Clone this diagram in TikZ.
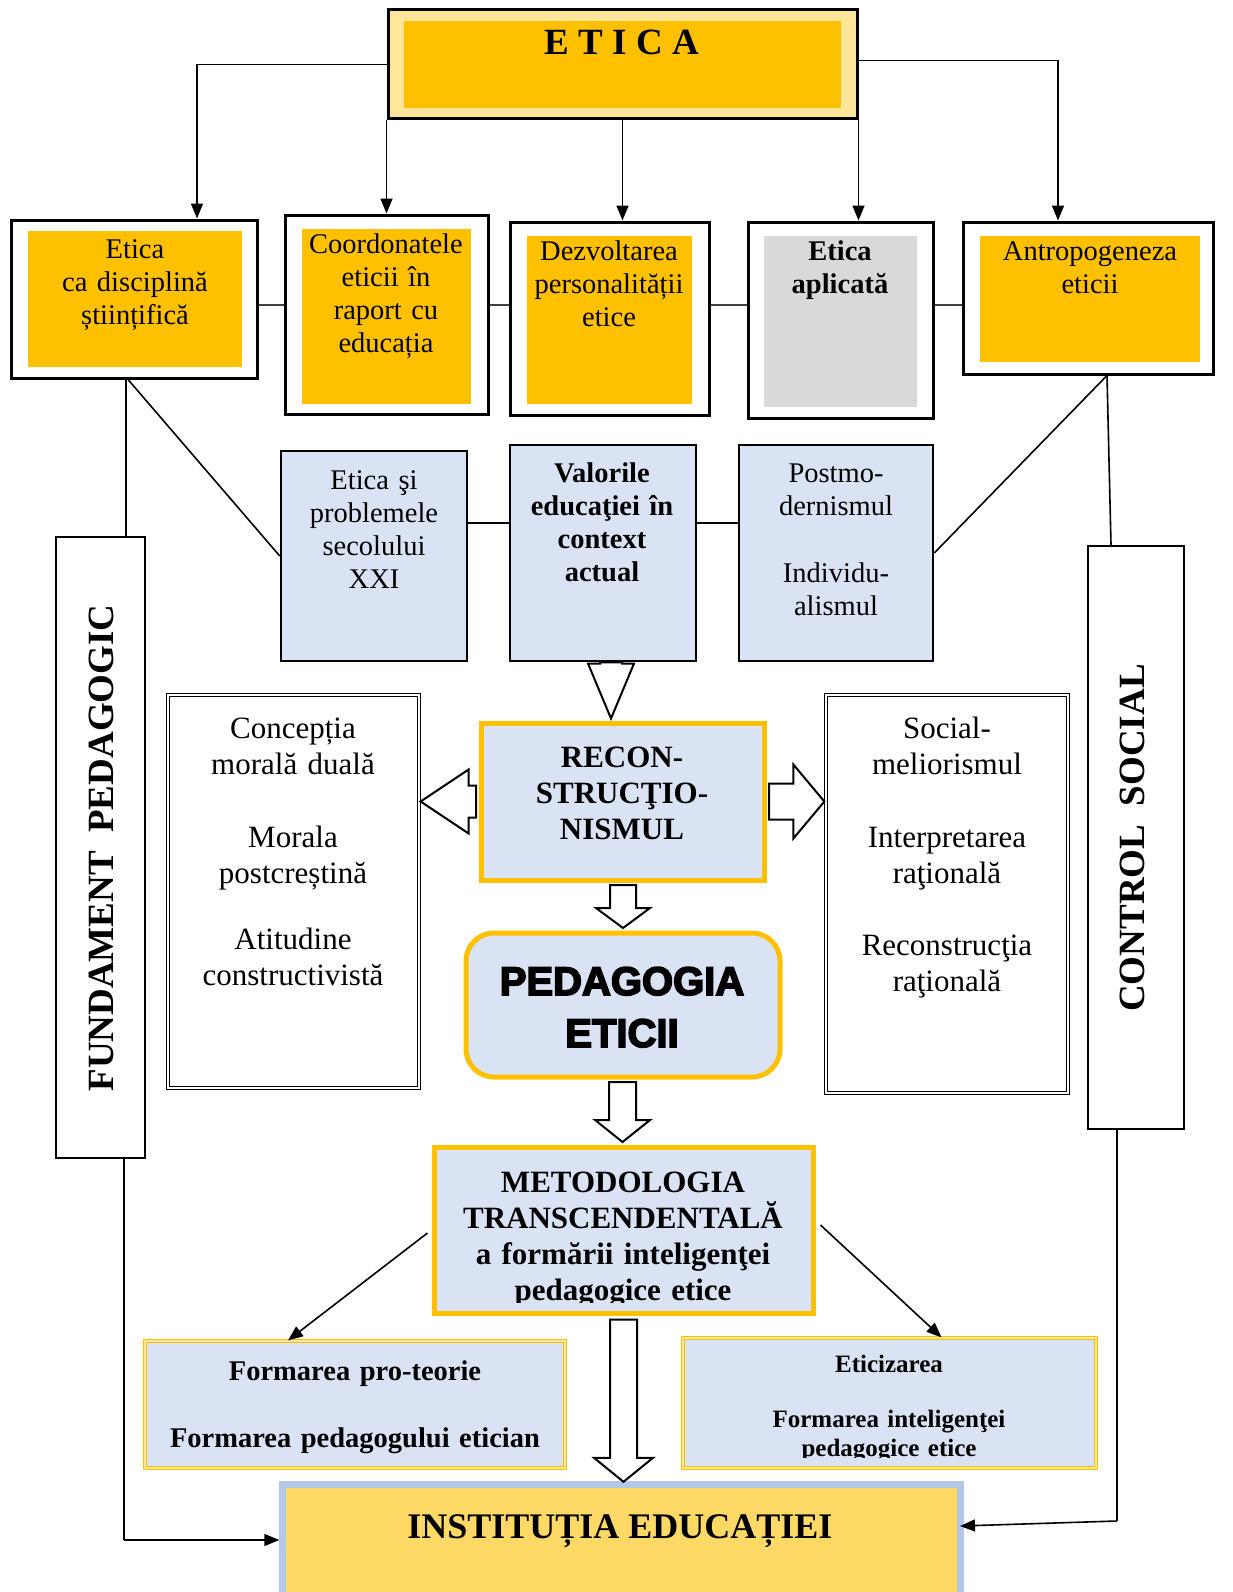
\documentclass[tikz,border=0pt]{standalone}
\usepackage{fontspec}
\setmainfont{Liberation Serif}
\newfontfamily\blackfont[FakeBold=4]{Liberation Sans Bold}
\usetikzlibrary{arrows.meta,fit,calc}
\definecolor{orangeC}{HTML}{FFC000}
\definecolor{yellowL}{HTML}{FFE699}
\definecolor{blueF}{HTML}{DAE3F3}
\definecolor{grayF}{HTML}{D9D9D9}
\definecolor{goldF}{HTML}{FFD966}
\definecolor{blueB}{HTML}{B4C7E7}
\newcommand{\hdown}[5]{\draw[hollow] let \p1=(#1), \p2=(#2) in
  (\x2-#3,\y1) -- (\x2+#3,\y1) -- (\x2+#3,\y2+#5) -- (\x2+#4,\y2+#5) -- (\x2,\y2)
  -- (\x2-#4,\y2+#5) -- (\x2-#3,\y2+#5) -- cycle;}
\newcommand{\hright}[5]{\draw[hollow] let \p1=(#1), \p2=(#2) in
  (\x1,\y2-#3) -- (\x2-#5,\y2-#3) -- (\x2-#5,\y2-#4) -- (\x2,\y2)
  -- (\x2-#5,\y2+#4) -- (\x2-#5,\y2+#3) -- (\x1,\y2+#3) -- cycle;}
\newcommand{\hleft}[5]{\draw[hollow] let \p1=(#1), \p2=(#2) in
  (\x1,\y2-#3) -- (\x2+#5,\y2-#3) -- (\x2+#5,\y2-#4) -- (\x2,\y2)
  -- (\x2+#5,\y2+#4) -- (\x2+#5,\y2+#3) -- (\x1,\y2+#3) -- cycle;}
\tikzset{
  outerbox/.style={draw=black, line width=3pt, fill=white, inner sep=0pt},
  innerbox/.style={inner sep=0pt, draw=none},
  bluebox/.style={draw=black, line width=2.5pt, fill=blueF, inner sep=0pt},
  dblbox/.style={draw=black, line width=1.3pt, double=white, double distance=2pt, inner sep=0pt},
  orbox/.style={draw=orangeC, line width=5pt, fill=blueF, inner sep=0pt},
  thinor/.style={draw=orangeC, line width=1.2pt, double=yellowL, double distance=1.2pt, fill=blueF, inner sep=0pt},
  sidebox/.style={draw=black, line width=2.5pt, fill=white, inner sep=0pt},
  txt/.style={font=\fontsize{28.5}{33}\selectfont, align=center, inner sep=0pt, anchor=base, text width=240pt},
  txtb/.style={txt, font=\fontsize{28.5}{33}\selectfont\bfseries},
  mtxt/.style={txt, font=\fontsize{31}{36}\selectfont},
  mtxtb/.style={txt, font=\fontsize{31}{36}\selectfont\bfseries, text width=380pt},
  conn/.style={line width=1.6pt, draw=black},
  lconn/.style={line width=1.6pt, draw=black!75},
  arr/.style={conn, -{Triangle[length=15pt,width=12pt]}},
  hollow/.style={draw=black, line width=2pt, fill=white, line join=miter},
}
\begin{document}
\begin{tikzpicture}[x=1pt,y=-1pt]
\useasboundingbox (0,0) rectangle (1232,1592);
\clip (0,0) rectangle (1232,1592);
% ETICA
\node[draw=black, line width=3pt, fill=yellowL, inner sep=0pt, fit={(388,10)(857,119)}] (etica) {};
\node[innerbox, fill=orangeC, fit={(404,21)(841,108)}] (eticai) {};
\node[inner sep=0pt, anchor=base, font=\fontsize{37}{40}\selectfont\bfseries] (eticat) at (622,55) {E T I C A};
% top row
\node[outerbox, fit={(11,220)(257,378)}] (e1) {};
\node[innerbox, fill=orangeC, fit={(28,231)(242,367)}] (e1i) {};
\node[txt] (e1t) at (135,258) {Etica\\ca disciplină\\științifică};
\node[outerbox, fit={(285,215)(488,414)}] (e2) {};
\node[innerbox, fill=orangeC, fit={(302,229)(471,404)}] (e2i) {};
\node[txt] (e2t) at (386,253) {Coordonatele\\eticii în\\raport cu\\educația};
\node[outerbox, fit={(510,222)(709,415)}] (e3) {};
\node[innerbox, fill=orangeC, fit={(527,236)(692,404)}] (e3i) {};
\node[txt] (e3t) at (609,260) {Dezvoltarea\\personalității\\etice};
\node[outerbox, fit={(748,222)(933,418)}] (e4) {};
\node[innerbox, fill=grayF, fit={(764,236)(917,407)}] (e4i) {};
\node[txtb] (e4t) at (840,260) {Etica\\aplicată};
\node[outerbox, fit={(963,222)(1213,374)}] (e5) {};
\node[innerbox, fill=orangeC, fit={(980,236)(1200,362)}] (e5i) {};
\node[txt] (e5t) at (1090,260) {Antropogeneza\\eticii};
% arrows from ETICA
\draw[arr] (etica.west) -| ([xshift=63pt]e1.north);
\draw[arr] (etica.south west) -- (etica.south west |- e2.north);
\draw[arr] (etica.south) -- (etica.south |- e3.north);
\draw[arr] (etica.south east) -- (etica.south east |- e4.north);
\draw[arr] ([yshift=4pt]etica.east) -| ([xshift=-30pt]e5.north);
% horizontal links
\coordinate (hl) at (0,305);
\draw[lconn] (e1.east |- hl) -- (e2.west |- hl);
\draw[lconn] (e2.east |- hl) -- (e3.west |- hl);
\draw[lconn] (e3.east |- hl) -- (e4.west |- hl);
\draw[lconn] (e4.east |- hl) -- (e5.west |- hl);
% blue row
\node[bluebox, fit={(281,451)(467,661)}] (b1) {};
\node[txt] (b1t) at (374,489) {Etica şi\\problemele\\secolului\\XXI};
\node[bluebox, fit={(510,445)(696,661)}] (b2) {};
\node[txtb] (b2t) at (602,482) {Valorile\\educaţiei în\\context\\actual};
\node[bluebox, fit={(739,445)(933,661)}] (b3) {};
\node[txt] (b3t) at (836,482) {Postmo-\\dernismul\\[34pt]Individu-\\alismul};
\coordinate (hl2) at (0,523);
\draw[conn] (b1.east |- hl2) -- (b2.west |- hl2);
\draw[conn] (b2.east |- hl2) -- (b3.west |- hl2);
% side bars
\node[sidebox, fit={(56,537)(145,1158)}] (fp) {};
\node[inner sep=0pt, rotate=90, font=\fontsize{37}{40}\selectfont\bfseries] (fpt) at (101,848) {FUNDAMENT\ \ PEDAGOGIC};
\node[sidebox, fit={(1088,546)(1184,1129)}] (cs) {};
\node[inner sep=0pt, rotate=90, font=\fontsize{37}{40}\selectfont\bfseries] (cst) at (1132,838) {CONTROL\ \ SOCIAL};
% diagonal and vertical links
\draw[conn] ([xshift=-6pt]e1.south) -- (b1.west);
\draw[conn] ([xshift=-8pt]e1.south) -- ([xshift=-8pt]e1.south |- fp.north);
\draw[conn] ([xshift=19pt]e5.south) -- (b3.east);
\draw[conn] ([xshift=19pt]e5.south) -- ([xshift=-25pt]cs.north);
% middle
\node[orbox, fit={(481,723)(764,880)}] (recon) {};
\node[mtxtb] (recont) at (622,767) {RECON-\\STRUCŢIO-\\NISMUL};
\node[dblbox, fit={(168,695)(419,1088)}] (lbox) {};
\node[mtxt] (lboxt) at (293,738) {Concepția\\morală duală\\[37pt]Morala\\postcreștină\\[30pt]Atitudine\\constructivistă};
\node[dblbox, fit={(826,695)(1068,1093)}] (rbox) {};
\node[mtxt] (rboxt) at (947,738) {Social-\\meliorismul\\[37pt]Interpretarea\\raţională\\[36pt]Reconstrucţia\\raţională};
\node[orbox, rounded corners=28pt, fit={(466,933)(780,1077)}] (ped) {};
\node[inner sep=0pt, anchor=base, align=center, text width=300pt, font=\fontsize{40}{52}\selectfont\blackfont] (pedt) at (622,995) {PEDAGOGIA\\ETICII};
\node[orbox, fit={(434,1147)(813,1313)}] (met) {};
\begin{scope}
\clip (437,1150) rectangle (810,1302);
\node[mtxtb] (mett) at (623,1192) {METODOLOGIA\\TRANSCENDENTALĂ\\a formării inteligenţei\\pedagogice etice};
\end{scope}
% bottom boxes
\node[thinor, fit={(145,1341)(565,1468)}] (fl) {};
\node[txtb, text width=410pt] (flt) at (355,1380) {Formarea pro-teorie\\[34pt]Formarea pedagogului etician};
\node[thinor, fit={(683,1338)(1096,1468)}] (fr) {};
\begin{scope}
\clip (686,1341) rectangle (1093,1457);
\node[txt, text width=400pt, font=\fontsize{25}{29}\selectfont\bfseries] (frt) at (889,1372) {Eticizarea\\[26pt]Formarea inteligenţei\\pedagogice etice};
\end{scope}
\node[fill=goldF, inner sep=0pt, fit={(283,1485)(960,1592)}] (inst) {};
\draw[blueB, line width=7pt] (inst.south west) |- (inst.north east) -- (inst.south east);
\node[inner sep=0pt, anchor=base, font=\fontsize{36}{40}\selectfont\bfseries] (instt) at (620,1538) {INSTITUȚIA EDUCAȚIEI};
% hollow arrows
\hdown{[xshift=8pt]b2.south}{[xshift=-11.5pt,yshift=2pt]recon.north}{11pt}{23pt}{55pt}
\hleft{[xshift=-2.5pt]recon.west}{[xshift=1pt]lbox.east |- recon.west}{16pt}{32pt}{48pt}
\hright{[xshift=2.5pt]recon.east}{[xshift=-1pt]rbox.west |- recon.east}{18pt}{37pt}{31pt}
\hdown{[yshift=-2.5pt]recon.south}{[yshift=2.5pt]ped.north}{13pt}{27pt}{20pt}
\hdown{[xshift=-1pt,yshift=-2.5pt]ped.south}{[xshift=-1pt,yshift=2.5pt]met.north}{13.5pt}{27.5pt}{22pt}
\hdown{[xshift=2pt,yshift=-4pt]met.south}{[xshift=2pt,yshift=3pt]inst.north}{13.5pt}{29.5pt}{24pt}
% diagonal arrows
\draw[arr] ([xshift=-4pt,yshift=-3pt]met.west) -- ([xshift=-67pt]fl.north);
\draw[arr] ([xshift=5pt,yshift=5pt]met.east) -- ([xshift=52pt]fr.north);
% feed lines to institution
\coordinate (fpturn) at (124,1540);
\draw[conn] ([xshift=23.5pt]fp.south) -- (fpturn);
\draw[arr] (fpturn) -- ([xshift=-3.5pt]fpturn -| inst.west);
\coordinate (csturn) at (1117,1521);
\draw[conn] ([xshift=-19pt]cs.south) -- (csturn);
\draw[arr] (csturn) -- (960,1526);
\end{tikzpicture}
\end{document}
